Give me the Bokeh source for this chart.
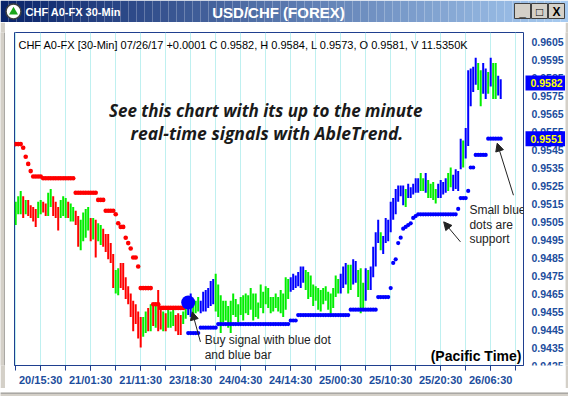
from bokeh.plotting import figure
from bokeh.models import (Range1d, FixedTicker, Label, Arrow, NormalHead, ColumnDataSource)
from bokeh.layouts import column, row
from bokeh.embed import file_html
from bokeh.resources import INLINE
from bokeh.core.properties import value

# ---------------- data ----------------
bar_high = [
    0.9516, 0.9519, 0.9522, 0.9519, 0.9517, 0.9517, 0.9514, 0.9513, 0.9512, 0.9516,
    0.9517, 0.9516, 0.9515, 0.9521, 0.9523, 0.9519, 0.9516, 0.9513, 0.9517, 0.9519,
    0.9518, 0.9516, 0.9515, 0.9513, 0.9511, 0.9508, 0.9506, 0.9510, 0.9512, 0.9513,
    0.9507, 0.9507, 0.9506, 0.9504, 0.9503, 0.9501, 0.9498, 0.9498, 0.9493, 0.9487,
    0.9478, 0.9479, 0.9482, 0.9482, 0.9474, 0.9469, 0.9465, 0.9461, 0.9459, 0.9455,
    0.9452, 0.9452, 0.9455, 0.9457, 0.9459, 0.9459, 0.9458, 0.9467, 0.9457, 0.9455,
    0.9454, 0.9457, 0.9455, 0.9456, 0.9453, 0.9454, 0.9453, 0.9455, 0.9461, 0.9462,
    0.9465, 0.9461, 0.9461, 0.9463, 0.9461, 0.9466, 0.9467, 0.9468, 0.9472, 0.9473,
    0.9476, 0.9470, 0.9464, 0.9461, 0.9461, 0.9458, 0.9461, 0.9465, 0.9462, 0.9459,
    0.9463, 0.9464, 0.9465, 0.9464, 0.9468, 0.9465, 0.9465, 0.9460, 0.9470, 0.9466,
    0.9469, 0.9468, 0.9463, 0.9463, 0.9465, 0.9463, 0.9467, 0.9465, 0.9474, 0.9473,
    0.9474, 0.9476, 0.9475, 0.9477, 0.9480, 0.9480, 0.9478, 0.9477, 0.9475, 0.9470,
    0.9469, 0.9468, 0.9467, 0.9468, 0.9469, 0.9466, 0.9465, 0.9468, 0.9475, 0.9473,
    0.9476, 0.9480, 0.9482, 0.9481, 0.9481, 0.9484, 0.9483, 0.9478, 0.9479, 0.9471,
    0.9479, 0.9478, 0.9480, 0.9491, 0.9499, 0.9506, 0.9499, 0.9497, 0.9507, 0.9506,
    0.9516, 0.9518, 0.9523, 0.9525, 0.9525, 0.9525, 0.9523, 0.9526, 0.9524, 0.9526,
    0.9529, 0.9529, 0.9532, 0.9529, 0.9532, 0.9528, 0.9526, 0.9527, 0.9523, 0.9526,
    0.9528, 0.9527, 0.9529, 0.9532, 0.9535, 0.9531, 0.9534, 0.9533, 0.9551, 0.9550,
    0.9557, 0.9589, 0.9590, 0.9591, 0.9596, 0.9593, 0.9589, 0.9593, 0.9590, 0.9588,
    0.9596, 0.9593, 0.9593, 0.9586, 0.9584,
]
bar_low = [
    0.9503, 0.9509, 0.9509, 0.9507, 0.9509, 0.9508, 0.9507, 0.9505, 0.9502, 0.9507,
    0.9509, 0.9510, 0.9508, 0.9508, 0.9513, 0.9508, 0.9507, 0.9500, 0.9507, 0.9508,
    0.9507, 0.9507, 0.9505, 0.9505, 0.9503, 0.9491, 0.9489, 0.9494, 0.9496, 0.9500,
    0.9494, 0.9495, 0.9485, 0.9494, 0.9492, 0.9491, 0.9488, 0.9484, 0.9482, 0.9468,
    0.9465, 0.9464, 0.9468, 0.9467, 0.9462, 0.9459, 0.9452, 0.9444, 0.9448, 0.9440,
    0.9435, 0.9441, 0.9443, 0.9444, 0.9444, 0.9447, 0.9446, 0.9444, 0.9445, 0.9444,
    0.9444, 0.9446, 0.9446, 0.9447, 0.9444, 0.9442, 0.9442, 0.9448, 0.9451, 0.9453,
    0.9452, 0.9453, 0.9454, 0.9455, 0.9454, 0.9455, 0.9455, 0.9457, 0.9458, 0.9459,
    0.9455, 0.9452, 0.9443, 0.9449, 0.9450, 0.9446, 0.9443, 0.9453, 0.9452, 0.9449,
    0.9453, 0.9450, 0.9454, 0.9453, 0.9456, 0.9450, 0.9452, 0.9451, 0.9457, 0.9454,
    0.9459, 0.9457, 0.9454, 0.9455, 0.9457, 0.9455, 0.9454, 0.9452, 0.9456, 0.9462,
    0.9466, 0.9467, 0.9468, 0.9469, 0.9468, 0.9471, 0.9467, 0.9462, 0.9463, 0.9458,
    0.9461, 0.9456, 0.9455, 0.9459, 0.9461, 0.9456, 0.9452, 0.9457, 0.9463, 0.9465,
    0.9465, 0.9468, 0.9470, 0.9465, 0.9467, 0.9470, 0.9471, 0.9463, 0.9454, 0.9457,
    0.9461, 0.9467, 0.9467, 0.9474, 0.9480, 0.9493, 0.9489, 0.9487, 0.9493, 0.9494,
    0.9499, 0.9506, 0.9509, 0.9516, 0.9519, 0.9514, 0.9513, 0.9518, 0.9518, 0.9520,
    0.9521, 0.9521, 0.9522, 0.9522, 0.9521, 0.9518, 0.9518, 0.9517, 0.9515, 0.9518,
    0.9518, 0.9520, 0.9521, 0.9522, 0.9524, 0.9522, 0.9523, 0.9522, 0.9534, 0.9535,
    0.9540, 0.9547, 0.9569, 0.9577, 0.9581, 0.9578, 0.9569, 0.9576, 0.9573, 0.9576,
    0.9580, 0.9573, 0.9573, 0.9575, 0.9573,
]
# signal colour of each bar: r = sell, g = neutral, b = buy
bar_signal = list(
    "gggrgrrrrg" "grrggrrrgg" "grggrrgggg" "rgrggrrrrr" "ggrrrrrrrr"
    "rggrgrgrrg" "rgggrrrggb" "bgggbbbbbb" "gggggggggg" "gggggggggg"
    "gggggggggg" "bbbbbbgggg" "gggggggggg" "bbbggbbggg" "bgbbbbgbbb"
    "bbbbbbgbbb" "bbggbggggb" "bbbggbbbbg" "bbbbbggbbg" "bggbb"
)
# red dots: resistance stop, starting at bar 0
red_stop_start = 0
red_stop = ([0.9548, 0.9548, 0.9548, 0.9546, 0.9541, 0.9537, 0.9533, 0.9530, 0.9530, 0.9530, 0.9530]
            + [0.9529] * 13 + [0.9521] * 9 + [0.9517] * 3 + [0.9511] * 4
            + [0.9509, 0.9504, 0.9502, 0.9502, 0.9496, 0.9493, 0.9490, 0.9485, 0.9485, 0.9480]
            + [0.9468] * 5 + [0.9459] * 3 + [0.9457] * 10)
# blue dots: support stop, starting at bar 69
blue_stop_start = 69
blue_stop = ([0.9443] * 5 + [0.9446] * 7 + [0.9448] * 29 + [0.9450] * 3 + [0.9453] * 21
             + [0.9456] * 11 + [0.9463] * 5
             + [0.9468, 0.9482, 0.9484, 0.9493, 0.9496, 0.9501, 0.9502, 0.9503, 0.9504, 0.9507, 0.9508]
             + [0.9509] * 16 + [0.9512] + [0.9518] * 3 + [0.9522] + [0.9535] * 2
             + [0.9542] * 5 + [0.9551] * 6)
buy_signal_bar = 69
buy_signal_price = 0.9460
last_close = 0.9582
last_stop = 0.9551

x_tick_bars = [10, 30, 50, 70, 90, 110, 130, 150, 170, 190]
x_tick_labels = ["20/15:30", "21/01:30", "21/11:30", "23/18:30", "24/04:30",
                 "24/14:30", "25/00:30", "25/10:30", "25/20:30", "26/06:30"]
y_ticks = [0.9425, 0.9435, 0.9445, 0.9455, 0.9465, 0.9475, 0.9485, 0.9495, 0.9505, 0.9515,
           0.9525, 0.9535, 0.9545, 0.9555, 0.9565, 0.9575, 0.9585, 0.9595, 0.9605]

header = ("CHF A0-FX [30-Min] 07/26/17  +0.0001 C 0.9582, H 0.9584, L 0.9573, "
          "O 0.9581, V 11.5350K")

# ---------------- styles ----------------
SIG_COL = {"r": "#ff0000", "g": "#00ee00", "b": "#0000ff"}
AXIS_BLUE = "#1f3f8f"
LABEL_BLUE = "#1c4d9c"
GRID = "#bff0f0"
FONT = "Liberation Sans"
CHROME = "#d4d0c8"


def bare(w, h, xr, yr, **kw):
    f = figure(width=w, height=h, x_range=xr, y_range=yr, x_axis_type=None, y_axis_type=None,
               output_backend="svg", toolbar_location=None, **kw)
    f.outline_line_color = None
    f.grid.visible = False
    return f


# ---------------- title bar ----------------
t = bare(568, 22, Range1d(0, 568), Range1d(22, 0), min_border=0)
n = 71
c0 = (10, 36, 106)
c1 = (166, 202, 240)
gx0, gx1, gcol = [], [], []
for k in range(n):
    f = k / (n - 1)
    rgb = tuple(int(round(a + (b - a) * f)) for a, b in zip(c0, c1))
    gx0.append(k * 8)
    gx1.append(k * 8 + 8)
    gcol.append("#%02x%02x%02x" % rgb)
t.quad(left=gx0, right=gx1, top=[0] * n, bottom=[22] * n, fill_color=gcol, line_color=None)
t.scatter(x=[13], y=[11], size=15, fill_color="#ffffff", line_color="#404040", line_width=1.5)
t.scatter(x=[13], y=[11.5], size=9, marker="triangle", fill_color="#1aa51a", line_color=None)
t.text(x=[25], y=[11.5], text=["CHF A0-FX 30-Min"], text_font=value(FONT), text_font_size="11px",
       text_font_style="bold", text_color="white", text_baseline="middle")
t.text(x=[278], y=[11.5], text=["USD/CHF (FOREX)"], text_font=value(FONT), text_font_size="15px",
       text_font_style="bold", text_color="white", text_baseline="middle", text_align="center")
bx = [514, 531, 548]
t.quad(left=bx, right=[b + 16 for b in bx], top=[3] * 3, bottom=[18] * 3,
       fill_color=CHROME, line_color="#404040", line_width=1)
t.text(x=[b + 8 for b in bx], y=[11, 11, 11.5], text=["_", "\u25a1", "X"], text_font=value(FONT),
       text_font_size="12px", text_font_style="bold", text_color="black",
       text_baseline="middle", text_align="center")

# ---------------- main chart ----------------
yr = Range1d(0.9425, 0.9610)
p = figure(width=519, height=366, x_range=Range1d(-0.48, 203.12), y_range=yr,
           output_backend="svg", toolbar_location=None, y_axis_type=None,
           min_border_left=9, min_border_right=1, min_border_top=10, min_border_bottom=23)
p.background_fill_color = "white"
p.border_fill_color = "white"
p.outline_line_color = AXIS_BLUE
p.outline_line_width = 1

xa = p.xaxis[0]
xa.ticker = FixedTicker(ticks=x_tick_bars, minor_ticks=list(range(0, 201, 10)))
xa.major_label_overrides = {b: s for b, s in zip(x_tick_bars, x_tick_labels)}
xa.axis_line_color = AXIS_BLUE
xa.major_tick_line_color = AXIS_BLUE
xa.minor_tick_line_color = AXIS_BLUE
xa.major_tick_in = 0
xa.major_tick_out = 5
xa.minor_tick_in = 0
xa.minor_tick_out = 5
xa.major_label_standoff = 3
xa.major_label_text_font = FONT
xa.major_label_text_font_style = "bold"
xa.major_label_text_font_size = "11px"
xa.major_label_text_color = LABEL_BLUE

p.xgrid.ticker = FixedTicker(ticks=list(range(0, 201, 10)))
p.ygrid.ticker = FixedTicker(ticks=y_ticks)
p.xgrid.grid_line_color = GRID
p.ygrid.grid_line_color = GRID

idx = list(range(len(bar_high)))
bars = ColumnDataSource(dict(x=idx, hi=bar_high, lo=bar_low,
                             c=[SIG_COL[s] for s in bar_signal[:len(bar_high)]]))
p.segment(x0="x", y0="lo", x1="x", y1="hi", source=bars, line_color="c", line_width=2)

p.scatter(x=[red_stop_start + k for k in range(len(red_stop))], y=red_stop, size=4.6,
          fill_color="#ff0000", line_color=None)
p.scatter(x=[blue_stop_start + k for k in range(len(blue_stop))], y=blue_stop, size=4.2,
          fill_color="#0000ff", line_color=None)
p.scatter(x=[buy_signal_bar], y=[buy_signal_price], size=14, fill_color="#0000ff", line_color=None)

p.add_layout(Label(x=1.1, y=0.96029, text=header, text_font=FONT, text_font_size="11px",
                   text_color="black", text_baseline="middle"))
p.add_layout(Label(x=100, y=0.95668, text="See this chart with its up to the minute",
                   text_font="Open Sans", text_font_size="17px", text_font_style="bold italic",
                   text_color="#1a1a1a", text_align="center", text_baseline="middle"))
p.add_layout(Label(x=100.5, y=0.95541, text="real-time signals with AbleTrend.",
                   text_font="Open Sans", text_font_size="17.5px", text_font_style="bold italic",
                   text_color="#1a1a1a", text_align="center", text_baseline="middle"))
for txt, yy in [("Buy signal with blue dot", 0.94391), ("and blue bar", 0.94308)]:
    p.add_layout(Label(x=75.6, y=yy, text=txt, text_font=FONT, text_font_size="12px",
                       text_color="#222222", text_baseline="middle"))
for txt, yy in [("Small blue", 0.95113), ("dots are", 0.95030), ("support", 0.94952)]:
    p.add_layout(Label(x=181.5, y=yy, text=txt, text_font=FONT, text_font_size="12px",
                       text_color="#222222", text_baseline="middle"))
p.add_layout(Label(x=202.3, y=0.94302, text="(Pacific Time)", text_font=FONT,
                   text_font_size="14px", text_font_style="bold", text_color="black",
                   text_align="right", text_baseline="middle"))

for xs, ys, xe, ye in [(73.9, 0.94381, 70.6, 0.94548),
                       (177.9, 0.94937, 171.2, 0.95048),
                       (199.1, 0.95196, 192.6, 0.95485)]:
    p.add_layout(Arrow(end=NormalHead(size=8, fill_color="#222222", line_color="#222222"),
                       x_start=xs, y_start=ys, x_end=xe, y_end=ye,
                       line_color="#222222", line_width=1))

# ---------------- right price scale (shares the chart's y scale) ----------------
r = bare(41, 366, Range1d(0, 41), yr, min_border_left=0, min_border_right=0,
         min_border_top=10, min_border_bottom=23)
r.background_fill_color = "white"
r.border_fill_color = "white"
r.text(x=[7] * len(y_ticks), y=y_ticks, text=["%.4f" % v for v in y_ticks],
       text_font=value(FONT), text_font_style="bold", text_font_size="10.5px",
       text_color=LABEL_BLUE, text_baseline="middle")
r.rect(x=[21, 21], y=[last_close, last_stop], width=40, height=15, height_units="screen",
       fill_color="#0000ff", line_color=None)
r.text(x=[6, 6], y=[last_close, last_stop], text=["%.4f" % last_close, "%.4f" % last_stop],
       text_font=value(FONT), text_font_size="10.5px", text_font_style="bold",
       text_color="#ffff00", text_baseline="middle")

# ---------------- window chrome ----------------
left_strip = bare(5, 366, Range1d(0, 5), Range1d(0, 366), min_border=0)
left_strip.background_fill_color = CHROME
left_strip.border_fill_color = CHROME
left_strip.quad(left=[4], right=[5], top=[366], bottom=[0], fill_color="#808080", line_color=None)
right_strip = bare(3, 366, Range1d(0, 3), Range1d(0, 366), min_border=0)
right_strip.background_fill_color = CHROME
right_strip.border_fill_color = CHROME
bottom_bar = bare(568, 8, Range1d(0, 568), Range1d(8, 0), min_border=0)
bottom_bar.background_fill_color = CHROME
bottom_bar.border_fill_color = CHROME
bottom_bar.quad(left=[0], right=[568], top=[0], bottom=[1], fill_color="#808080", line_color=None)

layout = column(t, row(left_strip, p, r, right_strip, spacing=0), bottom_bar, spacing=0)
open("out.html", "w").write(file_html(layout, INLINE))
